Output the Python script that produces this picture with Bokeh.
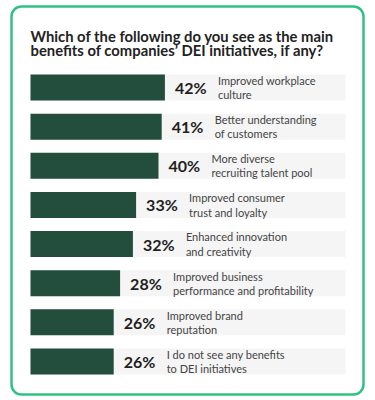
from bokeh.plotting import figure
from bokeh.models import Range1d, ColumnDataSource, BoxAnnotation
from bokeh.core.properties import value
from bokeh.embed import file_html
from bokeh.resources import INLINE

# ---- data ----
categories = [
    "Improved workplace\nculture",
    "Better understanding\nof customers",
    "More diverse\nrecruiting talent pool",
    "Improved consumer\ntrust and loyalty",
    "Enhanced innovation\nand creativity",
    "Improved business\nperformance and profitability",
    "Improved brand\nreputation",
    "I do not see any benefits\nto DEI initiatives",
]
values = [42, 41, 40, 33, 32, 28, 26, 26]
labels = [f"{v}%" for v in values]
title_lines = [
    "Which of the following do you see as the main",
    "benefits of companies\u2019 DEI initiatives, if any?",
]

# ---- layout (pixels) ----
W, H = 372, 398
X0, PX = 30.0, 3.2          # canvas x of 0 %, pixels per %
Y0, PITCH = 87.0, 39.14     # canvas y of first row centre, row pitch


def cx(px):
    return (px - X0) / PX


def cy(py):
    return (py - Y0) / PITCH


FONT = "Lato"
DARK = "#234d3c"
TRACK = "#f5f5f5"

p = figure(width=W, height=H, output_backend="svg", toolbar_location=None,
           x_range=Range1d(cx(0), cx(W)), y_range=Range1d(cy(H), cy(0)),
           min_border=0, outline_line_color=None, background_fill_color="white",
           border_fill_color="white")
p.axis.visible = False
p.grid.visible = False

idx = list(range(len(values)))
src = ColumnDataSource(dict(y=idx, v=values, lab=labels, cat=categories,
                            track=[cx(345)] * len(values)))

bh = 26 / PITCH
p.hbar(y="y", left=0, right="track", height=bh, source=src, fill_color=TRACK, line_color=None)
p.hbar(y="y", left=0, right="v", height=bh, source=src, fill_color=DARK, line_color=None)

p.text(x="v", y="y", text="lab", source=src, x_offset=10,
       text_font=value(FONT), text_font_style="bold", text_font_size="16px",
       text_color="#1f1f1f", text_align="left", text_baseline="middle")
p.text(x="v", y="y", text="cat", source=src, x_offset=53,
       text_font=value(FONT), text_font_size="11px", text_line_height=1.1,
       text_color="#444444", text_align="left", text_baseline="middle")

p.text(x=[0, 0], y=[cy(35), cy(49)], text=title_lines,
       text_font=value(FONT), text_font_style="bold", text_font_size="14.8px",
       text_color="#222222", text_align="left", text_baseline="middle")

card = BoxAnnotation(left=cx(11), right=cx(363), top=cy(6), bottom=cy(394),
                     fill_color=None, line_color="#2fc285", line_alpha=1.0,
                     line_width=2.5, border_radius=10)
p.add_layout(card)

open("out.html", "w").write(file_html(p, INLINE))
